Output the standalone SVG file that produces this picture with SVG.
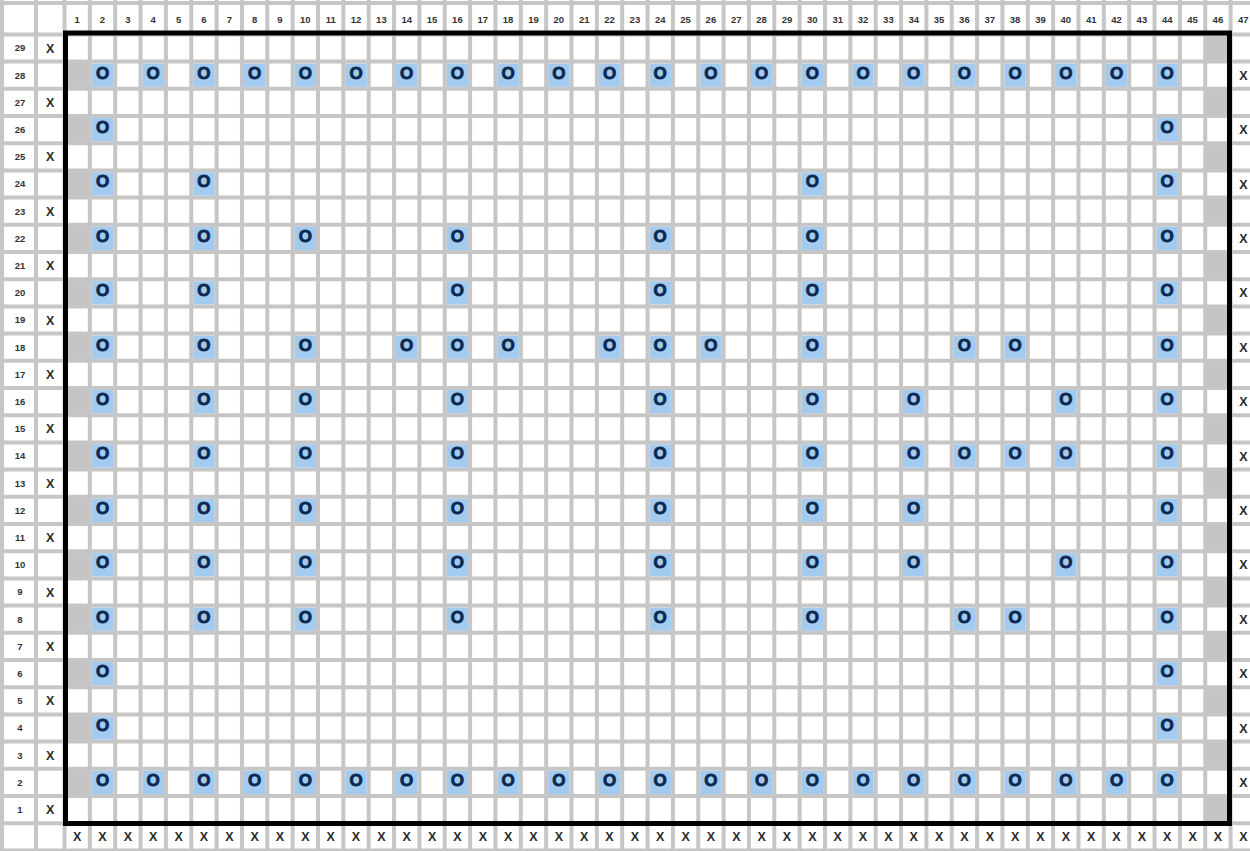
<svg xmlns="http://www.w3.org/2000/svg" width="1250" height="851" viewBox="0 0 1250 851">
<style>
.grid{fill:none;stroke:#c6c6c6;stroke-width:4}
.g{fill:#c4c4c4}
.b{fill:#a3cbf0}
.h{font-family:"Liberation Sans",Arial,sans-serif;font-weight:bold;font-size:9.5px;fill:#333;text-anchor:middle}
.x{font-family:"Liberation Sans",Arial,sans-serif;font-weight:bold;font-size:12.5px;fill:#2b2b2b;text-anchor:middle}
.o{font-family:"Liberation Sans",Arial,sans-serif;font-weight:bold;font-size:17px;fill:#0b2850;stroke:#0b2850;stroke-width:0.8;text-anchor:middle}
.border{fill:none;stroke:#000;stroke-width:5}
</style>
<rect width="1250" height="851" fill="#fff"/>
<g id="shaded-cells">
<rect class="g" x="64.5" y="61.6" width="25.35" height="27.2"/><rect class="g" x="64.5" y="116" width="25.35" height="27.2"/><rect class="g" x="64.5" y="170.4" width="25.35" height="27.2"/><rect class="g" x="64.5" y="224.8" width="25.35" height="27.2"/><rect class="g" x="64.5" y="279.2" width="25.35" height="27.2"/><rect class="g" x="64.5" y="333.6" width="25.35" height="27.2"/><rect class="g" x="64.5" y="388" width="25.35" height="27.2"/><rect class="g" x="64.5" y="442.4" width="25.35" height="27.2"/><rect class="g" x="64.5" y="496.8" width="25.35" height="27.2"/><rect class="g" x="64.5" y="551.2" width="25.35" height="27.2"/><rect class="g" x="64.5" y="605.6" width="25.35" height="27.2"/><rect class="g" x="64.5" y="660" width="25.35" height="27.2"/><rect class="g" x="64.5" y="714.4" width="25.35" height="27.2"/><rect class="g" x="64.5" y="768.8" width="25.35" height="27.2"/>
<rect class="g" x="1205.25" y="34.4" width="25.35" height="27.2"/><rect class="g" x="1205.25" y="88.8" width="25.35" height="27.2"/><rect class="g" x="1205.25" y="143.2" width="25.35" height="27.2"/><rect class="g" x="1205.25" y="197.6" width="25.35" height="27.2"/><rect class="g" x="1205.25" y="252" width="25.35" height="27.2"/><rect class="g" x="1205.25" y="306.4" width="25.35" height="27.2"/><rect class="g" x="1205.25" y="360.8" width="25.35" height="27.2"/><rect class="g" x="1205.25" y="415.2" width="25.35" height="27.2"/><rect class="g" x="1205.25" y="469.6" width="25.35" height="27.2"/><rect class="g" x="1205.25" y="524" width="25.35" height="27.2"/><rect class="g" x="1205.25" y="578.4" width="25.35" height="27.2"/><rect class="g" x="1205.25" y="632.8" width="25.35" height="27.2"/><rect class="g" x="1205.25" y="687.2" width="25.35" height="27.2"/><rect class="g" x="1205.25" y="741.6" width="25.35" height="27.2"/><rect class="g" x="1205.25" y="796" width="25.35" height="27.2"/>
</g>
<path id="grid" class="grid" d="M2 0V851M36 0V851M64.5 0V851M89.85 0V851M115.2 0V851M140.55 0V851M165.9 0V851M191.25 0V851M216.6 0V851M241.95 0V851M267.3 0V851M292.65 0V851M318 0V851M343.35 0V851M368.7 0V851M394.05 0V851M419.4 0V851M444.75 0V851M470.1 0V851M495.45 0V851M520.8 0V851M546.15 0V851M571.5 0V851M596.85 0V851M622.2 0V851M647.55 0V851M672.9 0V851M698.25 0V851M723.6 0V851M748.95 0V851M774.3 0V851M799.65 0V851M825 0V851M850.35 0V851M875.7 0V851M901.05 0V851M926.4 0V851M951.75 0V851M977.1 0V851M1002.45 0V851M1027.8 0V851M1053.15 0V851M1078.5 0V851M1103.85 0V851M1129.2 0V851M1154.55 0V851M1179.9 0V851M1205.25 0V851M1230.6 0V851M0 3H1250M0 34.4H1250M0 61.6H1250M0 88.8H1250M0 116H1250M0 143.2H1250M0 170.4H1250M0 197.6H1250M0 224.8H1250M0 252H1250M0 279.2H1250M0 306.4H1250M0 333.6H1250M0 360.8H1250M0 388H1250M0 415.2H1250M0 442.4H1250M0 469.6H1250M0 496.8H1250M0 524H1250M0 551.2H1250M0 578.4H1250M0 605.6H1250M0 632.8H1250M0 660H1250M0 687.2H1250M0 714.4H1250M0 741.6H1250M0 768.8H1250M0 796H1250M0 823.2H1250M0 850.4H1250"/>
<g id="column-headers" class="h">
<text x="77.2" y="22.8">1</text><text x="102.5" y="22.8">2</text><text x="127.9" y="22.8">3</text><text x="153.2" y="22.8">4</text><text x="178.6" y="22.8">5</text><text x="203.9" y="22.8">6</text><text x="229.3" y="22.8">7</text><text x="254.6" y="22.8">8</text><text x="280" y="22.8">9</text><text x="305.3" y="22.8">10</text><text x="330.7" y="22.8">11</text><text x="356" y="22.8">12</text><text x="381.4" y="22.8">13</text><text x="406.7" y="22.8">14</text><text x="432.1" y="22.8">15</text><text x="457.4" y="22.8">16</text><text x="482.8" y="22.8">17</text><text x="508.1" y="22.8">18</text><text x="533.5" y="22.8">19</text><text x="558.8" y="22.8">20</text><text x="584.2" y="22.8">21</text><text x="609.5" y="22.8">22</text><text x="634.9" y="22.8">23</text><text x="660.2" y="22.8">24</text><text x="685.6" y="22.8">25</text><text x="710.9" y="22.8">26</text><text x="736.3" y="22.8">27</text><text x="761.6" y="22.8">28</text><text x="787" y="22.8">29</text><text x="812.3" y="22.8">30</text><text x="837.7" y="22.8">31</text><text x="863" y="22.8">32</text><text x="888.4" y="22.8">33</text><text x="913.7" y="22.8">34</text><text x="939.1" y="22.8">35</text><text x="964.4" y="22.8">36</text><text x="989.8" y="22.8">37</text><text x="1015.1" y="22.8">38</text><text x="1040.5" y="22.8">39</text><text x="1065.8" y="22.8">40</text><text x="1091.2" y="22.8">41</text><text x="1116.5" y="22.8">42</text><text x="1141.9" y="22.8">43</text><text x="1167.2" y="22.8">44</text><text x="1192.6" y="22.8">45</text><text x="1217.9" y="22.8">46</text><text x="1243.3" y="22.8">47</text>
</g>
<g id="row-labels" class="h">
<text x="20" y="51.3">29</text><text x="20" y="78.5">28</text><text x="20" y="105.7">27</text><text x="20" y="132.9">26</text><text x="20" y="160.1">25</text><text x="20" y="187.3">24</text><text x="20" y="214.5">23</text><text x="20" y="241.7">22</text><text x="20" y="268.9">21</text><text x="20" y="296.1">20</text><text x="20" y="323.3">19</text><text x="20" y="350.5">18</text><text x="20" y="377.7">17</text><text x="20" y="404.9">16</text><text x="20" y="432.1">15</text><text x="20" y="459.3">14</text><text x="20" y="486.5">13</text><text x="20" y="513.7">12</text><text x="20" y="540.9">11</text><text x="20" y="568.1">10</text><text x="20" y="595.3">9</text><text x="20" y="622.5">8</text><text x="20" y="649.7">7</text><text x="20" y="676.9">6</text><text x="20" y="704.1">5</text><text x="20" y="731.3">4</text><text x="20" y="758.5">3</text><text x="20" y="785.7">2</text><text x="20" y="812.9">1</text>
</g>
<g id="x-marks" class="x">
<text x="50.2" y="52.5">X</text><text x="50.2" y="106.9">X</text><text x="50.2" y="161.3">X</text><text x="50.2" y="215.7">X</text><text x="50.2" y="270.1">X</text><text x="50.2" y="324.5">X</text><text x="50.2" y="378.9">X</text><text x="50.2" y="433.3">X</text><text x="50.2" y="487.7">X</text><text x="50.2" y="542.1">X</text><text x="50.2" y="596.5">X</text><text x="50.2" y="650.9">X</text><text x="50.2" y="705.3">X</text><text x="50.2" y="759.7">X</text><text x="50.2" y="814.1">X</text>
<text x="1243.3" y="79.7">X</text><text x="1243.3" y="134.1">X</text><text x="1243.3" y="188.5">X</text><text x="1243.3" y="242.9">X</text><text x="1243.3" y="297.3">X</text><text x="1243.3" y="351.7">X</text><text x="1243.3" y="406.1">X</text><text x="1243.3" y="460.5">X</text><text x="1243.3" y="514.9">X</text><text x="1243.3" y="569.3">X</text><text x="1243.3" y="623.7">X</text><text x="1243.3" y="678.1">X</text><text x="1243.3" y="732.5">X</text><text x="1243.3" y="786.9">X</text>
<text x="77.2" y="841.3">X</text><text x="102.5" y="841.3">X</text><text x="127.9" y="841.3">X</text><text x="153.2" y="841.3">X</text><text x="178.6" y="841.3">X</text><text x="203.9" y="841.3">X</text><text x="229.3" y="841.3">X</text><text x="254.6" y="841.3">X</text><text x="280" y="841.3">X</text><text x="305.3" y="841.3">X</text><text x="330.7" y="841.3">X</text><text x="356" y="841.3">X</text><text x="381.4" y="841.3">X</text><text x="406.7" y="841.3">X</text><text x="432.1" y="841.3">X</text><text x="457.4" y="841.3">X</text><text x="482.8" y="841.3">X</text><text x="508.1" y="841.3">X</text><text x="533.5" y="841.3">X</text><text x="558.8" y="841.3">X</text><text x="584.2" y="841.3">X</text><text x="609.5" y="841.3">X</text><text x="634.9" y="841.3">X</text><text x="660.2" y="841.3">X</text><text x="685.6" y="841.3">X</text><text x="710.9" y="841.3">X</text><text x="736.3" y="841.3">X</text><text x="761.6" y="841.3">X</text><text x="787" y="841.3">X</text><text x="812.3" y="841.3">X</text><text x="837.7" y="841.3">X</text><text x="863" y="841.3">X</text><text x="888.4" y="841.3">X</text><text x="913.7" y="841.3">X</text><text x="939.1" y="841.3">X</text><text x="964.4" y="841.3">X</text><text x="989.8" y="841.3">X</text><text x="1015.1" y="841.3">X</text><text x="1040.5" y="841.3">X</text><text x="1065.8" y="841.3">X</text><text x="1091.2" y="841.3">X</text><text x="1116.5" y="841.3">X</text><text x="1141.9" y="841.3">X</text><text x="1167.2" y="841.3">X</text><text x="1192.6" y="841.3">X</text><text x="1217.9" y="841.3">X</text><text x="1243.3" y="841.3">X</text>
</g>
<g id="o-cells">
<g id="row28" transform="translate(0,75.2)">
<rect class="b" x="91.85" y="-11.6" width="21.35" height="23.2"/><rect class="b" x="142.55" y="-11.6" width="21.35" height="23.2"/><rect class="b" x="193.25" y="-11.6" width="21.35" height="23.2"/><rect class="b" x="243.95" y="-11.6" width="21.35" height="23.2"/><rect class="b" x="294.65" y="-11.6" width="21.35" height="23.2"/><rect class="b" x="345.35" y="-11.6" width="21.35" height="23.2"/><rect class="b" x="396.05" y="-11.6" width="21.35" height="23.2"/><rect class="b" x="446.75" y="-11.6" width="21.35" height="23.2"/><rect class="b" x="497.45" y="-11.6" width="21.35" height="23.2"/><rect class="b" x="548.15" y="-11.6" width="21.35" height="23.2"/><rect class="b" x="598.85" y="-11.6" width="21.35" height="23.2"/><rect class="b" x="649.55" y="-11.6" width="21.35" height="23.2"/><rect class="b" x="700.25" y="-11.6" width="21.35" height="23.2"/><rect class="b" x="750.95" y="-11.6" width="21.35" height="23.2"/><rect class="b" x="801.65" y="-11.6" width="21.35" height="23.2"/><rect class="b" x="852.35" y="-11.6" width="21.35" height="23.2"/><rect class="b" x="903.05" y="-11.6" width="21.35" height="23.2"/><rect class="b" x="953.75" y="-11.6" width="21.35" height="23.2"/><rect class="b" x="1004.45" y="-11.6" width="21.35" height="23.2"/><rect class="b" x="1055.15" y="-11.6" width="21.35" height="23.2"/><rect class="b" x="1105.85" y="-11.6" width="21.35" height="23.2"/><rect class="b" x="1156.55" y="-11.6" width="21.35" height="23.2"/>
<text class="o" x="102.5" y="3.3">O</text><text class="o" x="153.2" y="3.3">O</text><text class="o" x="203.9" y="3.3">O</text><text class="o" x="254.6" y="3.3">O</text><text class="o" x="305.3" y="3.3">O</text><text class="o" x="356" y="3.3">O</text><text class="o" x="406.7" y="3.3">O</text><text class="o" x="457.4" y="3.3">O</text><text class="o" x="508.1" y="3.3">O</text><text class="o" x="558.8" y="3.3">O</text><text class="o" x="609.5" y="3.3">O</text><text class="o" x="660.2" y="3.3">O</text><text class="o" x="710.9" y="3.3">O</text><text class="o" x="761.6" y="3.3">O</text><text class="o" x="812.3" y="3.3">O</text><text class="o" x="863" y="3.3">O</text><text class="o" x="913.7" y="3.3">O</text><text class="o" x="964.4" y="3.3">O</text><text class="o" x="1015.1" y="3.3">O</text><text class="o" x="1065.8" y="3.3">O</text><text class="o" x="1116.5" y="3.3">O</text><text class="o" x="1167.2" y="3.3">O</text>
</g>
<g id="row26" transform="translate(0,129.6)">
<rect class="b" x="91.85" y="-11.6" width="21.35" height="23.2"/><rect class="b" x="1156.55" y="-11.6" width="21.35" height="23.2"/>
<text class="o" x="102.5" y="3.3">O</text><text class="o" x="1167.2" y="3.3">O</text>
</g>
<g id="row24" transform="translate(0,184)">
<rect class="b" x="91.85" y="-11.6" width="21.35" height="23.2"/><rect class="b" x="193.25" y="-11.6" width="21.35" height="23.2"/><rect class="b" x="801.65" y="-11.6" width="21.35" height="23.2"/><rect class="b" x="1156.55" y="-11.6" width="21.35" height="23.2"/>
<text class="o" x="102.5" y="3.3">O</text><text class="o" x="203.9" y="3.3">O</text><text class="o" x="812.3" y="3.3">O</text><text class="o" x="1167.2" y="3.3">O</text>
</g>
<g id="row22" transform="translate(0,238.4)">
<rect class="b" x="91.85" y="-11.6" width="21.35" height="23.2"/><rect class="b" x="193.25" y="-11.6" width="21.35" height="23.2"/><rect class="b" x="294.65" y="-11.6" width="21.35" height="23.2"/><rect class="b" x="446.75" y="-11.6" width="21.35" height="23.2"/><rect class="b" x="649.55" y="-11.6" width="21.35" height="23.2"/><rect class="b" x="801.65" y="-11.6" width="21.35" height="23.2"/><rect class="b" x="1156.55" y="-11.6" width="21.35" height="23.2"/>
<text class="o" x="102.5" y="3.3">O</text><text class="o" x="203.9" y="3.3">O</text><text class="o" x="305.3" y="3.3">O</text><text class="o" x="457.4" y="3.3">O</text><text class="o" x="660.2" y="3.3">O</text><text class="o" x="812.3" y="3.3">O</text><text class="o" x="1167.2" y="3.3">O</text>
</g>
<g id="row20" transform="translate(0,292.8)">
<rect class="b" x="91.85" y="-11.6" width="21.35" height="23.2"/><rect class="b" x="193.25" y="-11.6" width="21.35" height="23.2"/><rect class="b" x="446.75" y="-11.6" width="21.35" height="23.2"/><rect class="b" x="649.55" y="-11.6" width="21.35" height="23.2"/><rect class="b" x="801.65" y="-11.6" width="21.35" height="23.2"/><rect class="b" x="1156.55" y="-11.6" width="21.35" height="23.2"/>
<text class="o" x="102.5" y="3.3">O</text><text class="o" x="203.9" y="3.3">O</text><text class="o" x="457.4" y="3.3">O</text><text class="o" x="660.2" y="3.3">O</text><text class="o" x="812.3" y="3.3">O</text><text class="o" x="1167.2" y="3.3">O</text>
</g>
<g id="row18" transform="translate(0,347.2)">
<rect class="b" x="91.85" y="-11.6" width="21.35" height="23.2"/><rect class="b" x="193.25" y="-11.6" width="21.35" height="23.2"/><rect class="b" x="294.65" y="-11.6" width="21.35" height="23.2"/><rect class="b" x="396.05" y="-11.6" width="21.35" height="23.2"/><rect class="b" x="446.75" y="-11.6" width="21.35" height="23.2"/><rect class="b" x="497.45" y="-11.6" width="21.35" height="23.2"/><rect class="b" x="598.85" y="-11.6" width="21.35" height="23.2"/><rect class="b" x="649.55" y="-11.6" width="21.35" height="23.2"/><rect class="b" x="700.25" y="-11.6" width="21.35" height="23.2"/><rect class="b" x="801.65" y="-11.6" width="21.35" height="23.2"/><rect class="b" x="953.75" y="-11.6" width="21.35" height="23.2"/><rect class="b" x="1004.45" y="-11.6" width="21.35" height="23.2"/><rect class="b" x="1156.55" y="-11.6" width="21.35" height="23.2"/>
<text class="o" x="102.5" y="3.3">O</text><text class="o" x="203.9" y="3.3">O</text><text class="o" x="305.3" y="3.3">O</text><text class="o" x="406.7" y="3.3">O</text><text class="o" x="457.4" y="3.3">O</text><text class="o" x="508.1" y="3.3">O</text><text class="o" x="609.5" y="3.3">O</text><text class="o" x="660.2" y="3.3">O</text><text class="o" x="710.9" y="3.3">O</text><text class="o" x="812.3" y="3.3">O</text><text class="o" x="964.4" y="3.3">O</text><text class="o" x="1015.1" y="3.3">O</text><text class="o" x="1167.2" y="3.3">O</text>
</g>
<g id="row16" transform="translate(0,401.6)">
<rect class="b" x="91.85" y="-11.6" width="21.35" height="23.2"/><rect class="b" x="193.25" y="-11.6" width="21.35" height="23.2"/><rect class="b" x="294.65" y="-11.6" width="21.35" height="23.2"/><rect class="b" x="446.75" y="-11.6" width="21.35" height="23.2"/><rect class="b" x="649.55" y="-11.6" width="21.35" height="23.2"/><rect class="b" x="801.65" y="-11.6" width="21.35" height="23.2"/><rect class="b" x="903.05" y="-11.6" width="21.35" height="23.2"/><rect class="b" x="1055.15" y="-11.6" width="21.35" height="23.2"/><rect class="b" x="1156.55" y="-11.6" width="21.35" height="23.2"/>
<text class="o" x="102.5" y="3.3">O</text><text class="o" x="203.9" y="3.3">O</text><text class="o" x="305.3" y="3.3">O</text><text class="o" x="457.4" y="3.3">O</text><text class="o" x="660.2" y="3.3">O</text><text class="o" x="812.3" y="3.3">O</text><text class="o" x="913.7" y="3.3">O</text><text class="o" x="1065.8" y="3.3">O</text><text class="o" x="1167.2" y="3.3">O</text>
</g>
<g id="row14" transform="translate(0,456)">
<rect class="b" x="91.85" y="-11.6" width="21.35" height="23.2"/><rect class="b" x="193.25" y="-11.6" width="21.35" height="23.2"/><rect class="b" x="294.65" y="-11.6" width="21.35" height="23.2"/><rect class="b" x="446.75" y="-11.6" width="21.35" height="23.2"/><rect class="b" x="649.55" y="-11.6" width="21.35" height="23.2"/><rect class="b" x="801.65" y="-11.6" width="21.35" height="23.2"/><rect class="b" x="903.05" y="-11.6" width="21.35" height="23.2"/><rect class="b" x="953.75" y="-11.6" width="21.35" height="23.2"/><rect class="b" x="1004.45" y="-11.6" width="21.35" height="23.2"/><rect class="b" x="1055.15" y="-11.6" width="21.35" height="23.2"/><rect class="b" x="1156.55" y="-11.6" width="21.35" height="23.2"/>
<text class="o" x="102.5" y="3.3">O</text><text class="o" x="203.9" y="3.3">O</text><text class="o" x="305.3" y="3.3">O</text><text class="o" x="457.4" y="3.3">O</text><text class="o" x="660.2" y="3.3">O</text><text class="o" x="812.3" y="3.3">O</text><text class="o" x="913.7" y="3.3">O</text><text class="o" x="964.4" y="3.3">O</text><text class="o" x="1015.1" y="3.3">O</text><text class="o" x="1065.8" y="3.3">O</text><text class="o" x="1167.2" y="3.3">O</text>
</g>
<g id="row12" transform="translate(0,510.4)">
<rect class="b" x="91.85" y="-11.6" width="21.35" height="23.2"/><rect class="b" x="193.25" y="-11.6" width="21.35" height="23.2"/><rect class="b" x="294.65" y="-11.6" width="21.35" height="23.2"/><rect class="b" x="446.75" y="-11.6" width="21.35" height="23.2"/><rect class="b" x="649.55" y="-11.6" width="21.35" height="23.2"/><rect class="b" x="801.65" y="-11.6" width="21.35" height="23.2"/><rect class="b" x="903.05" y="-11.6" width="21.35" height="23.2"/><rect class="b" x="1156.55" y="-11.6" width="21.35" height="23.2"/>
<text class="o" x="102.5" y="3.3">O</text><text class="o" x="203.9" y="3.3">O</text><text class="o" x="305.3" y="3.3">O</text><text class="o" x="457.4" y="3.3">O</text><text class="o" x="660.2" y="3.3">O</text><text class="o" x="812.3" y="3.3">O</text><text class="o" x="913.7" y="3.3">O</text><text class="o" x="1167.2" y="3.3">O</text>
</g>
<g id="row10" transform="translate(0,564.8)">
<rect class="b" x="91.85" y="-11.6" width="21.35" height="23.2"/><rect class="b" x="193.25" y="-11.6" width="21.35" height="23.2"/><rect class="b" x="294.65" y="-11.6" width="21.35" height="23.2"/><rect class="b" x="446.75" y="-11.6" width="21.35" height="23.2"/><rect class="b" x="649.55" y="-11.6" width="21.35" height="23.2"/><rect class="b" x="801.65" y="-11.6" width="21.35" height="23.2"/><rect class="b" x="903.05" y="-11.6" width="21.35" height="23.2"/><rect class="b" x="1055.15" y="-11.6" width="21.35" height="23.2"/><rect class="b" x="1156.55" y="-11.6" width="21.35" height="23.2"/>
<text class="o" x="102.5" y="3.3">O</text><text class="o" x="203.9" y="3.3">O</text><text class="o" x="305.3" y="3.3">O</text><text class="o" x="457.4" y="3.3">O</text><text class="o" x="660.2" y="3.3">O</text><text class="o" x="812.3" y="3.3">O</text><text class="o" x="913.7" y="3.3">O</text><text class="o" x="1065.8" y="3.3">O</text><text class="o" x="1167.2" y="3.3">O</text>
</g>
<g id="row8" transform="translate(0,619.2)">
<rect class="b" x="91.85" y="-11.6" width="21.35" height="23.2"/><rect class="b" x="193.25" y="-11.6" width="21.35" height="23.2"/><rect class="b" x="294.65" y="-11.6" width="21.35" height="23.2"/><rect class="b" x="446.75" y="-11.6" width="21.35" height="23.2"/><rect class="b" x="649.55" y="-11.6" width="21.35" height="23.2"/><rect class="b" x="801.65" y="-11.6" width="21.35" height="23.2"/><rect class="b" x="953.75" y="-11.6" width="21.35" height="23.2"/><rect class="b" x="1004.45" y="-11.6" width="21.35" height="23.2"/><rect class="b" x="1156.55" y="-11.6" width="21.35" height="23.2"/>
<text class="o" x="102.5" y="3.3">O</text><text class="o" x="203.9" y="3.3">O</text><text class="o" x="305.3" y="3.3">O</text><text class="o" x="457.4" y="3.3">O</text><text class="o" x="660.2" y="3.3">O</text><text class="o" x="812.3" y="3.3">O</text><text class="o" x="964.4" y="3.3">O</text><text class="o" x="1015.1" y="3.3">O</text><text class="o" x="1167.2" y="3.3">O</text>
</g>
<g id="row6" transform="translate(0,673.6)">
<rect class="b" x="91.85" y="-11.6" width="21.35" height="23.2"/><rect class="b" x="1156.55" y="-11.6" width="21.35" height="23.2"/>
<text class="o" x="102.5" y="3.3">O</text><text class="o" x="1167.2" y="3.3">O</text>
</g>
<g id="row4" transform="translate(0,728)">
<rect class="b" x="91.85" y="-11.6" width="21.35" height="23.2"/><rect class="b" x="1156.55" y="-11.6" width="21.35" height="23.2"/>
<text class="o" x="102.5" y="3.3">O</text><text class="o" x="1167.2" y="3.3">O</text>
</g>
<g id="row2" transform="translate(0,782.4)">
<rect class="b" x="91.85" y="-11.6" width="21.35" height="23.2"/><rect class="b" x="142.55" y="-11.6" width="21.35" height="23.2"/><rect class="b" x="193.25" y="-11.6" width="21.35" height="23.2"/><rect class="b" x="243.95" y="-11.6" width="21.35" height="23.2"/><rect class="b" x="294.65" y="-11.6" width="21.35" height="23.2"/><rect class="b" x="345.35" y="-11.6" width="21.35" height="23.2"/><rect class="b" x="396.05" y="-11.6" width="21.35" height="23.2"/><rect class="b" x="446.75" y="-11.6" width="21.35" height="23.2"/><rect class="b" x="497.45" y="-11.6" width="21.35" height="23.2"/><rect class="b" x="548.15" y="-11.6" width="21.35" height="23.2"/><rect class="b" x="598.85" y="-11.6" width="21.35" height="23.2"/><rect class="b" x="649.55" y="-11.6" width="21.35" height="23.2"/><rect class="b" x="700.25" y="-11.6" width="21.35" height="23.2"/><rect class="b" x="750.95" y="-11.6" width="21.35" height="23.2"/><rect class="b" x="801.65" y="-11.6" width="21.35" height="23.2"/><rect class="b" x="852.35" y="-11.6" width="21.35" height="23.2"/><rect class="b" x="903.05" y="-11.6" width="21.35" height="23.2"/><rect class="b" x="953.75" y="-11.6" width="21.35" height="23.2"/><rect class="b" x="1004.45" y="-11.6" width="21.35" height="23.2"/><rect class="b" x="1055.15" y="-11.6" width="21.35" height="23.2"/><rect class="b" x="1105.85" y="-11.6" width="21.35" height="23.2"/><rect class="b" x="1156.55" y="-11.6" width="21.35" height="23.2"/>
<text class="o" x="102.5" y="3.3">O</text><text class="o" x="153.2" y="3.3">O</text><text class="o" x="203.9" y="3.3">O</text><text class="o" x="254.6" y="3.3">O</text><text class="o" x="305.3" y="3.3">O</text><text class="o" x="356" y="3.3">O</text><text class="o" x="406.7" y="3.3">O</text><text class="o" x="457.4" y="3.3">O</text><text class="o" x="508.1" y="3.3">O</text><text class="o" x="558.8" y="3.3">O</text><text class="o" x="609.5" y="3.3">O</text><text class="o" x="660.2" y="3.3">O</text><text class="o" x="710.9" y="3.3">O</text><text class="o" x="761.6" y="3.3">O</text><text class="o" x="812.3" y="3.3">O</text><text class="o" x="863" y="3.3">O</text><text class="o" x="913.7" y="3.3">O</text><text class="o" x="964.4" y="3.3">O</text><text class="o" x="1015.1" y="3.3">O</text><text class="o" x="1065.8" y="3.3">O</text><text class="o" x="1116.5" y="3.3">O</text><text class="o" x="1167.2" y="3.3">O</text>
</g>
</g>
<rect id="border" class="border" x="65.5" y="33" width="1164" height="790.5"/>
</svg>
